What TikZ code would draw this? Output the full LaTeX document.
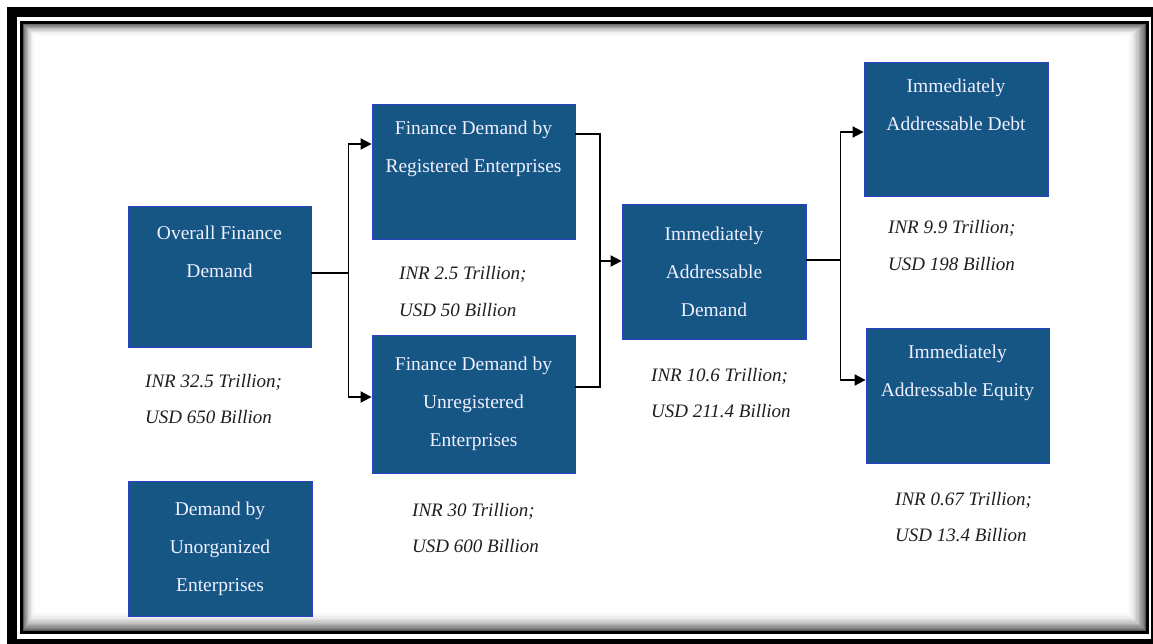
\documentclass[tikz,border=0pt]{standalone}
\usepackage{fontspec}
\setmainfont{Liberation Serif}
\usetikzlibrary{arrows.meta,calc}
\definecolor{boxblue}{RGB}{21,86,133}
\definecolor{boxedge}{RGB}{45,65,200}
\definecolor{labelgray}{RGB}{30,30,30}
\begin{document}
\begin{tikzpicture}[x=1pt,y=-1pt,
  box/.style={rectangle, fill=boxblue, draw=boxedge, line width=0.8pt, inner sep=0pt,
    text=white!94!blue, align=center, font=\fontsize{19.5}{38}\selectfont},
  val/.style={anchor=base west, align=left, inner sep=0pt, text=labelgray,
    font=\itshape\fontsize{19}{36}\selectfont},
  conn/.style={line width=1.8pt, black},
  arr/.style={conn, -{Triangle[length=11pt,width=11pt]}}]
\useasboundingbox (0,0) rectangle (1153,644);
% frame
\fill[black] (7,7) rectangle (1153,644);
\fill[white] (17,17) rectangle (1151,639);
\foreach \i in {0,...,15}{
  \pgfmathsetmacro\shd{65*(1-\i/16)^2}
  \draw[black!\shd, line width=1.6pt]
    ({23.5+0.8*\i},{24.5+0.8*\i}) rectangle ({1145.5-1.25*\i},{630.5-1.25*\i});
}
\draw[line width=3pt] (21.5,22.5) rectangle (1147.5,632.5);
% boxes
\node[box, minimum width=183pt, minimum height=141pt] (over) at (219.5,276.5) {Overall Finance\\Demand\\\strut};
\node[box, minimum width=203pt, minimum height=135pt] (reg) at (473.5,171.5) {Finance Demand by\\Registered Enterprises\\\strut};
\node[box, minimum width=203pt, minimum height=138pt] (unreg) at (473.5,404) {Finance Demand by\\Unregistered\\Enterprises};
\node[box, minimum width=184pt, minimum height=135pt] (iad) at (714,271.5) {Immediately\\Addressable\\Demand};
\node[box, minimum width=184pt, minimum height=134pt] (debt) at (956,129) {Immediately\\Addressable Debt\\\strut};
\node[box, minimum width=183pt, minimum height=135pt] (eq) at (957.5,395.5) {Immediately\\Addressable Equity\\\strut};
\node[box, minimum width=184pt, minimum height=135pt] (unorg) at (220,548.5) {Demand by\\Unorganized\\Enterprises};
% values
\node[val] (vover) at (145,423) {INR 32.5 Trillion;\\USD 650 Billion};
\node[val] (vreg) at (399,316) {INR 2.5 Trillion;\\USD 50 Billion};
\node[val] (vunreg) at (412,552) {INR 30 Trillion;\\USD 600 Billion};
\node[val] (viad) at (651,417) {INR 10.6 Trillion;\\USD 211.4 Billion};
\node[val] (vdebt) at (888,270) {INR 9.9 Trillion;\\USD 198 Billion};
\node[val] (veq) at (895,541) {INR 0.67 Trillion;\\USD 13.4 Billion};
% connectors
\coordinate (j1) at ($([yshift=3.5pt]over.east)+(37,0)$);
\draw[conn] ([yshift=3.5pt]over.east) -- (j1);
\draw[arr] (j1) |- ([yshift=27.5pt]reg.west);
\draw[arr] (j1) |- ([yshift=7pt]unreg.west);
\coordinate (j2) at ($([yshift=10.5pt]iad.west)+(-22,0)$);
\draw[conn] ([yshift=37.5pt]reg.east) -| (j2);
\draw[conn] ([yshift=17pt]unreg.east) -| (j2);
\draw[arr] (j2) -- ([yshift=10.5pt]iad.west);
\coordinate (j3) at ($([yshift=11.5pt]iad.east)+(34,0)$);
\draw[conn] ([yshift=11.5pt]iad.east) -- (j3);
\draw[arr] (j3) |- ([yshift=-3pt]debt.west);
\draw[arr] (j3) |- ([yshift=15.5pt]eq.west);
\end{tikzpicture}
\end{document}
